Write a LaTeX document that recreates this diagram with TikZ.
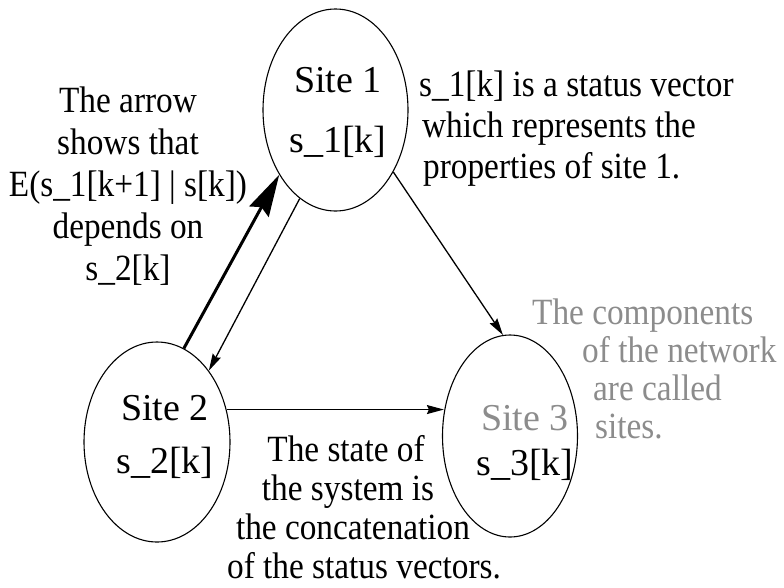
\documentclass[tikz,border=0pt]{standalone}
\usepackage{fontspec}
\setmainfont{Liberation Serif}
\newfontfamily\annfont{Liberation Serif}[FakeStretch=0.9]
\usetikzlibrary{arrows.meta,shapes.geometric}
\definecolor{lightgraytext}{gray}{0.55}
\begin{document}
\begin{tikzpicture}[x=1pt,y=-1pt,
  site/.style={draw,ellipse,line width=1.1pt,inner sep=0pt},
  sitetxt/.style={inner sep=0pt,align=center,anchor=base,font=\fontsize{38}{44}\selectfont},
  txt/.style={inner sep=0pt,font=\annfont\fontsize{37}{42}\selectfont},
  thin/.style={line width=1.3pt,-{Stealth[length=17pt,width=9pt,inset=2pt]}},
  thick/.style={line width=3pt,-{Stealth[length=42pt,width=22pt,inset=5pt]}}]
\useasboundingbox (0,0) rectangle (784,587);
% sites
\node[site,minimum width=145pt,minimum height=202pt] (s1) at (335.5,110) {};
\node[site,minimum width=146pt,minimum height=200pt] (s2) at (157,442) {};
\node[site,minimum width=135pt,minimum height=202pt] (s3) at (510,436) {};
% site texts (anchor = baseline of last line)
\node[sitetxt] (s1t) at (338,152) {Site 1\\[16pt]s\_1[k]};
\node[sitetxt] (s2t) at (165,473) {Site 2\\[9pt]s\_2[k]};
\node[sitetxt] (s3t) at (525,475) {\textcolor{lightgraytext}{Site 3}\\[1pt]s\_3[k]};
% connectors
\draw[thick] (s2.74) -- (s1.229);
\draw[thin] (s1.248) -- (s2.54);
\draw[thin] (s1.313) -- (s3.94);
\draw[thin] (s2.25) -- (s2.25 -| s3.160);
% annotations
\node[txt,align=center,anchor=base] (ann1) at (128,280)
  {The arrow\\shows that\\E(s\_1[k+1] | s[k])\\depends on\\s\_2[k]};
\node[txt,align=left,anchor=base west,font=\annfont\fontsize{37}{41}\selectfont] (ann2) at (419,178)
  {s\_1[k] is a status vector\\\hspace*{3pt}which represents the\\\hspace*{4pt}properties of site 1.};
\node[txt,align=center,anchor=base,font=\annfont\fontsize{37}{39}\selectfont] (ann3) at (346,578)
  {The state of\\\hspace*{4pt}the system is\\\hspace*{14pt}the concatenation\\\hspace*{36pt}of the status vectors.};
\node[txt,align=left,anchor=base west,text=lightgraytext,font=\annfont\fontsize{37}{38}\selectfont] (ann4) at (532,438)
  {The components\\\hspace*{50pt}of the network\\\hspace*{61pt}are called\\\hspace*{63pt}sites.};
\end{tikzpicture}
\end{document}
